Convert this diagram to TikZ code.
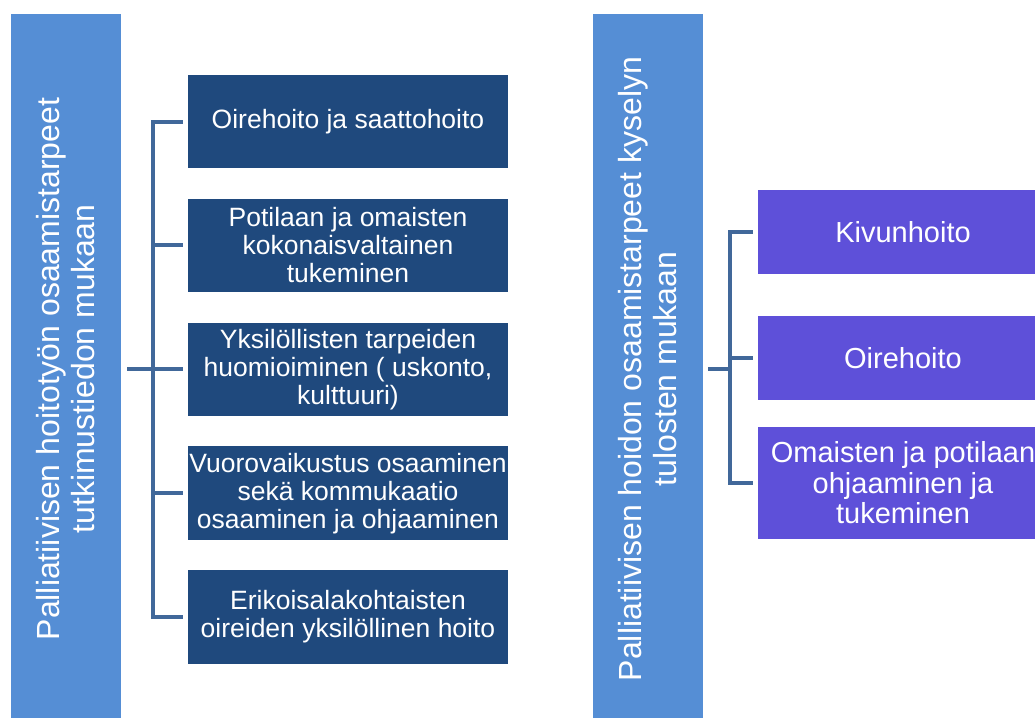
\documentclass[tikz,border=0pt]{standalone}
\usepackage{fontspec}
\setmainfont{Liberation Sans}
\usepackage{xcolor}
\usepackage{tikz}
\usetikzlibrary{positioning}
\definecolor{barblue}{HTML}{558ED5}
\definecolor{navyblue}{HTML}{1F497D}
\definecolor{resviolet}{HTML}{5E50D9}
\definecolor{linkblue}{HTML}{41689A}
\tikzset{
  bar/.style    = {rectangle, fill=barblue, text=white, rotate=90,
                   minimum width=710pt, minimum height=110pt, inner sep=0pt,
                   align=center, font=\fontsize{32}{35}\selectfont},
  topic/.style  = {rectangle, fill=navyblue, text=white, inner sep=0pt,
                   minimum width=320pt, minimum height=93.5pt,
                   align=center, font=\fontsize{26.5}{28}\selectfont},
  result/.style = {rectangle, fill=resviolet, text=white, inner sep=0pt,
                   minimum width=290pt, minimum height=84pt,
                   align=center, font=\fontsize{29}{30.5}\selectfont},
  brace/.style  = {draw=linkblue, line width=4pt},
}

\begin{document}
\begin{tikzpicture}[x=1pt, y=-1pt]
  \useasboundingbox (0,0) rectangle (1035,717);
  \clip (0,0) rectangle (1035,717);

  \node[bar] (lbar) at (66,369) {Palliatiivisen hoitotyön osaamistarpeet\\tutkimustiedon mukaan};
  \node[bar] (rbar) at (648,369) {Palliatiivisen hoidon osaamistarpeet kyselyn\\tulosten mukaan};

  \node[topic] (t1) at (348,121.5) {Oirehoito ja saattohoito};
  \node[topic,below=30pt of t1] (t2) {Potilaan ja omaisten\\kokonaisvaltainen\\tukeminen};
  \node[topic,below=30pt of t2] (t3) {Yksilöllisten tarpeiden\\huomioiminen ( uskonto,\\kulttuuri)};
  \node[topic,below=30pt of t3] (t4) {Vuorovaikustus osaaminen\\sekä kommukaatio\\osaaminen ja ohjaaminen};
  \node[topic,below=30pt of t4] (t5) {Erikoisalakohtaisten\\oireiden yksilöllinen hoito};

  \node[result] (r1) at (903,232) {Kivunhoito};
  \node[result,below=42pt of r1] (r2) {Oirehoito};
  \node[result,minimum height=112pt,below=26pt of r2] (r3) {Omaisten ja potilaan\\ohjaaminen ja\\tukeminen};

  \draw[brace] ([xshift=6pt]lbar.south) -- ++(26,0) coordinate (lfork);
  \draw[brace] ([xshift=-5pt]t1.west) -| (lfork |- t5.west) -- ([xshift=-5pt]t5.west);
  \foreach \n in {t2,t3,t4}
    \draw[brace] (lfork |- \n.west) -- ([xshift=-5pt]\n.west);

  \draw[brace] ([xshift=5pt]rbar.south) -- ++(22,0) coordinate (rfork);
  \draw[brace] ([xshift=-5pt]r1.west) -| (rfork |- r3.west) -- ([xshift=-5pt]r3.west);
  \draw[brace] (rfork |- r2.west) -- ([xshift=-5pt]r2.west);
\end{tikzpicture}
\end{document}
